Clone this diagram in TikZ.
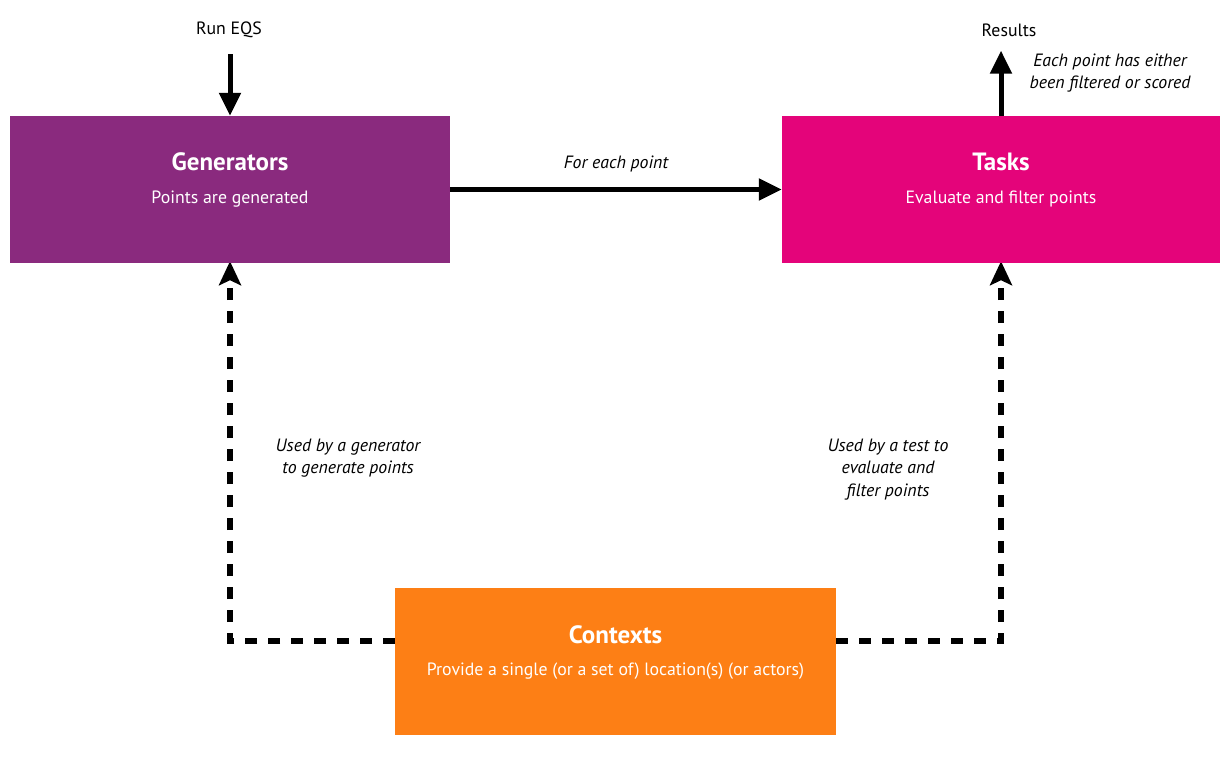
\documentclass[tikz,border=0pt]{standalone}
\usepackage{fontspec}
\setmainfont{PT Sans}
\usetikzlibrary{arrows.meta}
\definecolor{genpurple}{HTML}{8A2A7E}
\definecolor{taskpink}{HTML}{E4047A}
\definecolor{ctxorange}{HTML}{FD7F15}
\begin{document}
\begin{tikzpicture}[x=1pt,y=-1pt,
  box/.style={rectangle, draw=none, minimum width=440pt, minimum height=147pt, inner sep=0pt},
  ttl/.style={text=white, font=\fontsize{25}{29}\selectfont\bfseries, inner sep=0pt},
  sub/.style={text=white, font=\fontsize{17.8}{21}\selectfont, inner sep=0pt},
  lbl/.style={text=black, font=\fontsize{17.8}{21}\selectfont, inner sep=0pt},
  ilbl/.style={text=black, font=\fontsize{17.8}{22.5}\selectfont\itshape, inner sep=0pt, align=center},
  solidarrow/.style={line width=5pt, -{Triangle[width=21pt,length=23pt]}},
  dasharrow/.style={line width=6pt, dash pattern=on 12pt off 11pt, -{Stealth[width=22pt,length=24pt,inset=5pt]}}
]
\useasboundingbox (0,0) rectangle (1230,759);
\fill[white] (0,0) rectangle (1230,759);

% connection points on the Contexts box
\coordinate (cl) at (395,641);
\coordinate (cr) at (836,641);

% dashed connectors (drawn first)
\node[box, minimum width=440pt] (gen) at (230,189.5) {};
\node[box, minimum width=438pt] (tasks) at (1001,189.5) {};
\draw[dasharrow] (cl) -| ([yshift=2pt]gen.south);
\draw[dasharrow] (cr) -| ([yshift=2pt]tasks.south);

% boxes
\fill[genpurple] (gen.north west) rectangle (gen.south east);
\fill[taskpink] (tasks.north west) rectangle (tasks.south east);
\node[box, minimum width=441pt, fill=ctxorange] (ctx) at (615.5,661.5) {};

% box texts
\node[ttl] (gent) at (230,162) {Generators};
\node[sub] (gens) at (230,199) {Points are generated};
\node[ttl] (taskt) at (1001,162) {Tasks};
\node[sub] (tasks2) at (1001,199) {Evaluate and filter points};
\node[ttl] (ctxt) at (615.5,635) {Contexts};
\node[sub] (ctxs) at (615.5,671) {Provide a single (or a set of) location(s) (or actors)};

% top labels
\node[lbl] (run) at (229,30) {Run EQS};
\node[lbl] (res) at (1009,30) {Results};
\node[ilbl] (each) at (1110,73) {Each point has either\\been filtered or scored};

% solid arrows
\draw[solidarrow, shorten <=16pt] (run.south -| gen.north) -- (gen.north);
\draw[solidarrow, shorten >=14pt] (tasks.north) -- (tasks.north |- res.south);
\draw[solidarrow] (gen.east) -- (tasks.west);
\node[ilbl] (foreach) at (616,164) {For each point};

% dashed-line labels
\node[ilbl] (usedgen) at (348,458) {Used by a generator\\to generate points};
\node[ilbl] (usedtest) at (888,469.5) {Used by a test to\\evaluate and\\filter points};
\end{tikzpicture}
\end{document}
